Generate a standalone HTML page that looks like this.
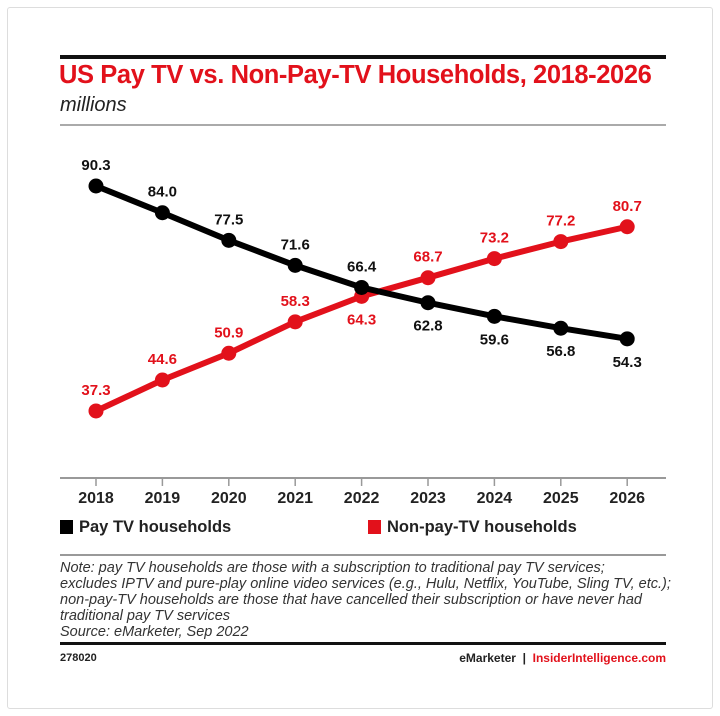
<!DOCTYPE html>
<html><head><meta charset="utf-8"><style>
body{margin:0;background:#fff;font-family:"Liberation Sans",sans-serif}
#frame{position:absolute;left:7px;top:7px;width:704px;height:700px;border:1px solid #ddd;border-radius:3px}
.abs{position:absolute}
</style></head><body>
<div id="frame"></div>
<div class="abs" style="left:60px;top:55px;width:606px;height:4px;background:#111"></div>
<div class="abs" style="left:59px;top:61px;font-size:25.5px;font-weight:bold;color:#e2111b;letter-spacing:-0.4px;white-space:nowrap">US Pay TV vs. Non-Pay-TV Households, 2018-2026</div>
<div class="abs" style="left:60px;top:94px;font-size:20px;font-style:italic;color:#222">millions</div>
<div class="abs" style="left:60px;top:124px;width:606px;height:2px;background:#aaa"></div>
<svg class="abs" style="left:0;top:0" width="720" height="716" id="chart"></svg>
<div class="abs" style="left:60px;top:518px;font-size:16.5px;font-weight:bold;color:#222"><span style="display:inline-block;width:13px;height:14px;background:#000;vertical-align:-2px;margin-right:6px"></span>Pay TV households</div>
<div class="abs" style="left:368px;top:518px;font-size:16.5px;font-weight:bold;color:#222"><span style="display:inline-block;width:13px;height:14px;background:#e2111b;vertical-align:-2px;margin-right:6px"></span>Non-pay-TV households</div>
<div class="abs" style="left:60px;top:554px;width:606px;height:2px;background:#999"></div>
<div class="abs" style="left:60px;top:560px;width:640px;font-size:14.5px;font-style:italic;color:#333;line-height:16px;white-space:nowrap">Note: pay TV households are those with a subscription to traditional pay TV services;<br>excludes IPTV and pure-play online video services (e.g., Hulu, Netflix, YouTube, Sling TV, etc.);<br>non-pay-TV households are those that have cancelled their subscription or have never had<br>traditional pay TV services<br>Source: eMarketer, Sep 2022</div>
<div class="abs" style="left:60px;top:642px;width:606px;height:3px;background:#111"></div>
<div class="abs" style="left:60px;top:652px;font-size:11px;font-weight:bold;color:#222">278020</div>
<div class="abs" style="right:54px;top:651px;font-size:12px;font-weight:bold;color:#222">eMarketer &nbsp;|&nbsp; <span style="color:#e2111b">InsiderIntelligence.com</span></div>
<script>
const years=[2018,2019,2020,2021,2022,2023,2024,2025,2026];
const payTV=[90.3,84.0,77.5,71.6,66.4,62.8,59.6,56.8,54.3];
const nonPayTV=[37.3,44.6,50.9,58.3,64.3,68.7,73.2,77.2,80.7];
const payLabelBelow=[false,false,false,false,false,true,true,true,true];
const nonLabelBelow=[false,false,false,false,true,false,false,false,false];
const NS="http://www.w3.org/2000/svg";
const svg=document.getElementById('chart');
const x=i=>96+i*66.4;
const y=v=>186+(90.3-v)*4.245;
function mk(t,a){const e=document.createElementNS(NS,t);for(const k in a)e.setAttribute(k,a[k]);svg.appendChild(e);return e;}
let ax=mk('line',{x1:60,x2:666,y1:478,y2:478,stroke:'#999','stroke-width':2});


years.forEach((yr,i)=>{
  let t=mk('line',{x1:x(i),x2:x(i),y1:478,y2:486,stroke:'#999','stroke-width':1.5});
  
  
  let l=mk('text',{x:x(i),y:503,'text-anchor':'middle','font-size':16,'font-weight':'bold',fill:'#222'});
  l.textContent=yr;
  
  
});
function series(vals,below,color,name){
  let p=mk('polyline',{points:vals.map((v,i)=>x(i)+','+y(v)).join(' '),fill:'none',stroke:color,'stroke-width':6,'stroke-linejoin':'round'});
  
  
  vals.forEach((v,i)=>{
    let c=mk('circle',{cx:x(i),cy:y(v),r:7.5,fill:color});
    
    
    let t=mk('text',{x:x(i),y:below[i]?y(v)+28:y(v)-16,'text-anchor':'middle','font-size':15,'font-weight':'bold',fill:color==='#000'?'#111':color});
    t.textContent=v.toFixed(1);
    
    
  });
}
series(nonPayTV,nonLabelBelow,'#e2111b','non-pay-tv');
series(payTV,payLabelBelow,'#000','pay-tv');
</script>
</body></html>
